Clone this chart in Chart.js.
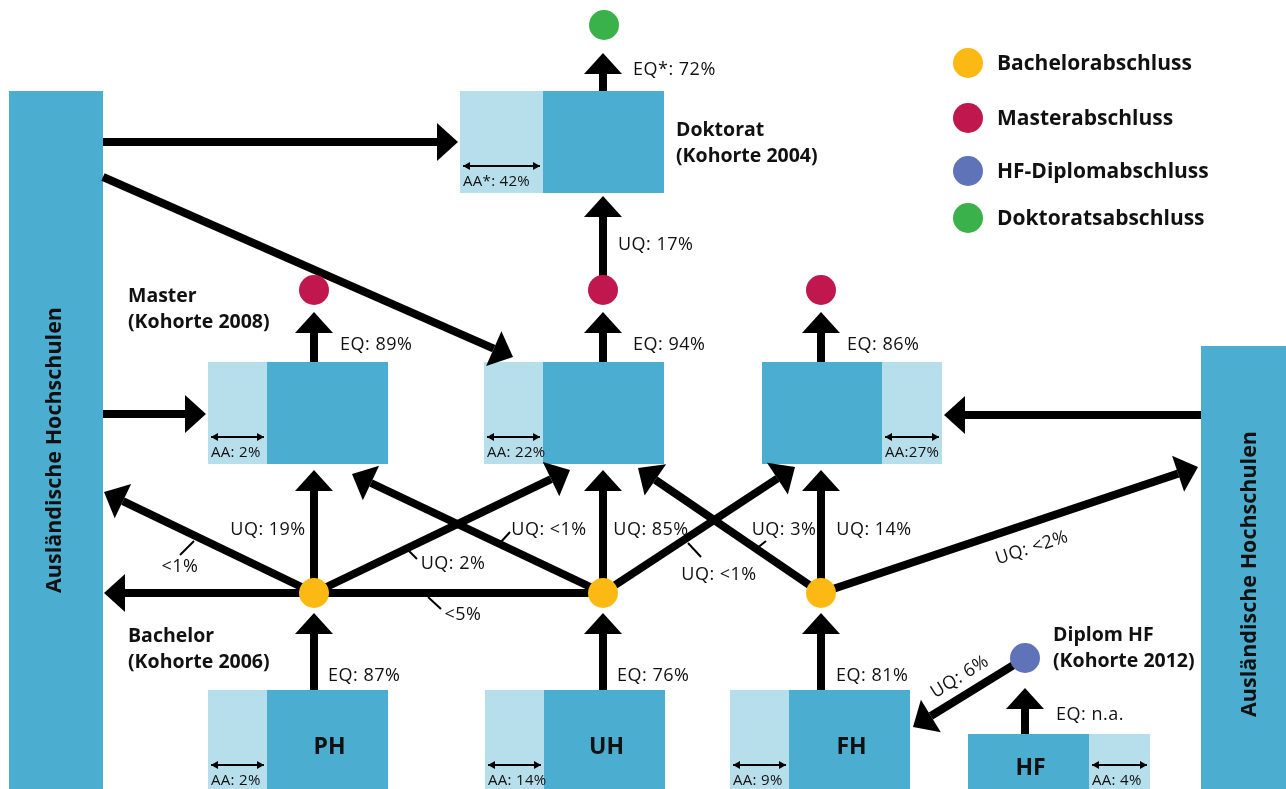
<!DOCTYPE html>
<html>
<head>
<meta charset="utf-8">
<script src="https://cdn.jsdelivr.net/npm/chart.js@4.4.0/dist/chart.umd.min.js"></script>
<style>
	html, body { margin: 0; padding: 0; background: #fff; }
	canvas { display: block; }
</style>
</head>
<body>
<canvas id="flow" width="1286" height="789"></canvas>
<script>
// Values
const legendLabels = [ 'Bachelorabschluss', 'Masterabschluss', 'HF-Diplomabschluss', 'Doktoratsabschluss' ];
const legendColors = [ '#fdb913', '#c0174f', '#5f73b8', '#3ab14a' ];
const schoolTypes = [ 'PH', 'UH', 'FH', 'HF' ];
const bachelorEQ = [ '87%', '76%', '81%', 'n.a.' ];
const bachelorAA = [ '2%', '14%', '9%', '4%' ];
const masterEQ = [ '89%', '94%', '86%' ];
const masterAA = [ '2%', '22%', '27%' ];
const doktoratEQ = '72%';
const doktoratAA = '42%';
const doktoratUQ = '17%';
const hfUQ = '6%';
// transitions out of the bachelor nodes: PH->abroad, UH->abroad, PH->PH, PH->UH, UH->PH, UH->UH, UH->FH, FH->UH, FH->FH, FH->abroad
const bachelorUQ = [ '<1%', '<5%', '19%', '2%', '<1%', '85%', '<1%', '3%', '14%', '<2%' ];
const foreignLabel = 'Ausländische Hochschulen';
const cohortTitles = [ 'Bachelor', 'Master', 'Doktorat', 'Diplom HF' ];
const cohortYears = [ '(Kohorte 2006)', '(Kohorte 2008)', '(Kohorte 2004)', '(Kohorte 2012)' ];

// Layout (diagram units = canvas pixels)
const DARK = '#4badcf';
const LIGHT = '#b7deeb';
const INK = '#111';
const REG = '"Open Sans", sans-serif';
const BOLD_FAMILY = '"Open Sans", sans-serif';

const boxes = [
	{ x0: 460, x1: 664, split: 543, y0: 91, y1: 193, lightLeft: true, aa: 'AA*: ' + doktoratAA },
	{ x0: 208, x1: 388, split: 267, y0: 362, y1: 464, lightLeft: true, aa: 'AA: ' + masterAA[ 0 ] },
	{ x0: 484, x1: 664, split: 543, y0: 362, y1: 464, lightLeft: true, aa: 'AA: ' + masterAA[ 1 ] },
	{ x0: 762, x1: 942, split: 882, y0: 362, y1: 464, lightLeft: false, aa: 'AA:' + masterAA[ 2 ] },
	{ x0: 208, x1: 388, split: 267, y0: 690, y1: 792, lightLeft: true, aa: 'AA: ' + bachelorAA[ 0 ], name: schoolTypes[ 0 ] },
	{ x0: 485, x1: 665, split: 544, y0: 690, y1: 792, lightLeft: true, aa: 'AA: ' + bachelorAA[ 1 ], name: schoolTypes[ 1 ] },
	{ x0: 730, x1: 910, split: 789, y0: 690, y1: 792, lightLeft: true, aa: 'AA: ' + bachelorAA[ 2 ], name: schoolTypes[ 2 ] },
	{ x0: 968, x1: 1150, split: 1089, y0: 734, y1: 792, lightLeft: false, aa: 'AA: ' + bachelorAA[ 3 ], name: schoolTypes[ 3 ] }
];
const foreignBars = [
	{ x0: 9, x1: 103, y0: 91, y1: 792, tx: 55, ty: 450 },
	{ x0: 1201, x1: 1286, y0: 346, y1: 792, tx: 1250, ty: 574 }
];

const bPH = [ 314, 593 ], bUH = [ 603, 593 ], bFH = [ 821, 593 ];
const mPH = [ 314, 290 ], mUH = [ 603, 290 ], mFH = [ 821, 290 ];
const dok = [ 604, 25 ], hfDot = [ 1025, 658 ];

const arrows = [
	{ from: [ 314, 690 ], to: [ 314, 613 ] },
	{ from: [ 603, 690 ], to: [ 603, 613 ] },
	{ from: [ 821, 690 ], to: [ 821, 613 ] },
	{ from: [ 1025, 734 ], to: [ 1025, 688 ] },
	{ from: hfDot, to: [ 913, 727 ] },
	{ from: bUH, to: [ 104, 593 ] },
	{ from: bPH, to: [ 104, 492 ] },
	{ from: bPH, to: [ 314, 470 ] },
	{ from: bPH, to: [ 570, 470 ] },
	{ from: bUH, to: [ 352, 474 ] },
	{ from: bUH, to: [ 603, 470 ] },
	{ from: bUH, to: [ 795, 467 ] },
	{ from: bFH, to: [ 638, 468 ] },
	{ from: bFH, to: [ 821, 470 ] },
	{ from: bFH, to: [ 1198, 467 ] },
	{ from: [ 314, 362 ], to: [ 314, 312 ] },
	{ from: [ 603, 362 ], to: [ 603, 312 ] },
	{ from: [ 821, 362 ], to: [ 821, 312 ] },
	{ from: mUH, to: [ 603, 196 ] },
	{ from: [ 603, 91 ], to: [ 603, 53 ] },
	{ from: [ 103, 142 ], to: [ 458, 142 ] },
	{ from: [ 103, 177 ], to: [ 513, 357 ] },
	{ from: [ 103, 414 ], to: [ 206, 414 ] },
	{ from: [ 1201, 415 ], to: [ 944, 415 ] }
];
const HEAD_LEN = 21;
const HEAD_HALF = 19;

// labels: text, x, y, centred or left, angle (deg)
const labels = [
	{ t: 'EQ*: ' + doktoratEQ, x: 633, y: 70 },
	{ t: 'UQ: ' + doktoratUQ, x: 618, y: 245 },
	{ t: 'EQ: ' + masterEQ[ 0 ], x: 340, y: 345 },
	{ t: 'EQ: ' + masterEQ[ 1 ], x: 633, y: 345 },
	{ t: 'EQ: ' + masterEQ[ 2 ], x: 847, y: 345 },
	{ t: 'EQ: ' + bachelorEQ[ 0 ], x: 328, y: 676 },
	{ t: 'EQ: ' + bachelorEQ[ 1 ], x: 617, y: 676 },
	{ t: 'EQ: ' + bachelorEQ[ 2 ], x: 836, y: 676 },
	{ t: 'EQ: ' + bachelorEQ[ 3 ], x: 1056, y: 715 },
	{ t: bachelorUQ[ 0 ], x: 180, y: 567, c: true },
	{ t: bachelorUQ[ 1 ], x: 463, y: 615, c: true },
	{ t: 'UQ: ' + bachelorUQ[ 2 ], x: 268, y: 530, c: true },
	{ t: 'UQ: ' + bachelorUQ[ 3 ], x: 453, y: 564, c: true },
	{ t: 'UQ: ' + bachelorUQ[ 4 ], x: 549, y: 530, c: true },
	{ t: 'UQ: ' + bachelorUQ[ 5 ], x: 651, y: 530, c: true },
	{ t: 'UQ: ' + bachelorUQ[ 6 ], x: 719, y: 575, c: true },
	{ t: 'UQ: ' + bachelorUQ[ 7 ], x: 784, y: 530, c: true },
	{ t: 'UQ: ' + bachelorUQ[ 8 ], x: 874, y: 530, c: true },
	{ t: 'UQ: ' + bachelorUQ[ 9 ], x: 1032, y: 548, c: true, a: -18 },
	{ t: 'UQ: ' + hfUQ, x: 960, y: 677, c: true, a: -32 }
];
const ticks = [
	[ 180, 555, 194, 541 ], [ 428, 597, 441, 609 ], [ 408, 550, 417, 559 ],
	[ 500, 543, 510, 532 ], [ 688, 543, 701, 557 ], [ 756, 549, 766, 541 ]
];
const titles = [
	{ x: 128, y: 636 }, { x: 128, y: 296 }, { x: 676, y: 130 }, { x: 1053, y: 635 }
];

// Shaft ends stop where the arrow head starts
function shaftEnd( a ) {
	const dx = a.to[ 0 ] - a.from[ 0 ], dy = a.to[ 1 ] - a.from[ 1 ];
	const len = Math.hypot( dx, dy );
	return { x: a.to[ 0 ] - dx / len * HEAD_LEN, y: a.to[ 1 ] - dy / len * HEAD_LEN };
}

const shaftSets = arrows.map( function ( a ) {
	return {
		type: 'scatter',
		data: [ { x: a.from[ 0 ], y: a.from[ 1 ] }, shaftEnd( a ) ],
		showLine: true,
		borderColor: '#000',
		borderWidth: 8,
		borderCapStyle: 'butt',
		pointRadius: 0,
		order: 2
	};
} );

const dotSet = {
	type: 'scatter',
	data: [ bPH, bUH, bFH, mPH, mUH, mFH, dok, hfDot ].map( ( p ) => ( { x: p[ 0 ], y: p[ 1 ] } ) ),
	pointRadius: 15,
	pointBorderWidth: 0,
	pointBackgroundColor: [ 0, 0, 0, 1, 1, 1, 3, 2 ].map( ( i ) => legendColors[ i ] ),
	order: 0
};
const legendSet = {
	type: 'scatter',
	data: [ 63, 118, 171, 218 ].map( ( y ) => ( { x: 968, y: y } ) ),
	pointRadius: 15,
	pointBorderWidth: 0,
	pointBackgroundColor: legendColors,
	order: 0
};

function txt( ctx, s, x, y, font, align, angle, spacing ) {
	ctx.save();
	ctx.translate( x, y );
	if ( angle ) {
		ctx.rotate( angle * Math.PI / 180 );
	}
	ctx.font = font;
	ctx.letterSpacing = ( spacing || 0 ) + 'px';
	ctx.fillStyle = INK;
	ctx.textAlign = align || 'left';
	ctx.textBaseline = 'middle';
	ctx.fillText( s, 0, 0 );
	ctx.restore();
}

const flowPlugin = {
	id: 'flowDecor',
	beforeDatasetsDraw: function ( chart ) {
		const ctx = chart.ctx;
		const sx = chart.scales.x, sy = chart.scales.y;
		const px = ( v ) => sx.getPixelForValue( v );
		const py = ( v ) => sy.getPixelForValue( v );
		ctx.save();
		foreignBars.forEach( function ( b ) {
			ctx.fillStyle = DARK;
			ctx.fillRect( px( b.x0 ), py( b.y0 ), px( b.x1 ) - px( b.x0 ), py( b.y1 ) - py( b.y0 ) );
			txt( ctx, foreignLabel, px( b.tx ), py( b.ty ), 'bold 21.5px ' + BOLD_FAMILY, 'center', -90 );
		} );
		boxes.forEach( function ( b ) {
			ctx.fillStyle = DARK;
			ctx.fillRect( px( b.x0 ), py( b.y0 ), px( b.x1 ) - px( b.x0 ), py( b.y1 ) - py( b.y0 ) );
			const l0 = b.lightLeft ? b.x0 : b.split;
			const l1 = b.lightLeft ? b.split : b.x1;
			ctx.fillStyle = LIGHT;
			ctx.fillRect( px( l0 ), py( b.y0 ), px( l1 ) - px( l0 ), py( b.y1 ) - py( b.y0 ) );
			if ( b.name ) {
				const dx0 = b.lightLeft ? b.split : b.x0;
				const dx1 = b.lightLeft ? b.x1 : b.split;
				const cy = b.y1 - b.y0 > 80 ? ( b.y0 + 57 ) : ( b.y0 + 34 );
				txt( ctx, b.name, px( ( dx0 + dx1 ) / 2 + 2 ), py( cy ), 'bold 23px ' + BOLD_FAMILY, 'center' );
			}
		} );
		ctx.restore();
	},
	afterDatasetsDraw: function ( chart ) {
		const ctx = chart.ctx;
		const sx = chart.scales.x, sy = chart.scales.y;
		const px = ( v ) => sx.getPixelForValue( v );
		const py = ( v ) => sy.getPixelForValue( v );
		ctx.save();
		// arrow heads
		ctx.fillStyle = '#000';
		arrows.forEach( function ( a ) {
			const tx = px( a.to[ 0 ] ), ty = py( a.to[ 1 ] );
			const fx = px( a.from[ 0 ] ), fy = py( a.from[ 1 ] );
			const len = Math.hypot( tx - fx, ty - fy );
			const ux = ( tx - fx ) / len, uy = ( ty - fy ) / len;
			const bx = tx - ux * HEAD_LEN, by = ty - uy * HEAD_LEN;
			ctx.beginPath();
			ctx.moveTo( tx, ty );
			ctx.lineTo( bx - uy * HEAD_HALF, by + ux * HEAD_HALF );
			ctx.lineTo( bx + uy * HEAD_HALF, by - ux * HEAD_HALF );
			ctx.closePath();
			ctx.fill();
		} );
		// AA measure arrows inside the light part
		boxes.forEach( function ( b ) {
			const l0 = b.lightLeft ? b.x0 : b.split;
			const l1 = b.lightLeft ? b.split : b.x1;
			const y = py( b.y1 - 27 );
			const x0 = px( l0 + 3 ), x1 = px( l1 - 3 );
			ctx.strokeStyle = '#000';
			ctx.lineWidth = 2;
			ctx.beginPath();
			ctx.moveTo( x0, y );
			ctx.lineTo( x1, y );
			ctx.stroke();
			ctx.beginPath();
			ctx.moveTo( x0, y ); ctx.lineTo( x0 + 7, y - 4 ); ctx.lineTo( x0 + 7, y + 4 ); ctx.closePath();
			ctx.moveTo( x1, y ); ctx.lineTo( x1 - 7, y - 4 ); ctx.lineTo( x1 - 7, y + 4 ); ctx.closePath();
			ctx.fill();
			txt( ctx, b.aa, px( l0 + 3 ), py( b.y1 - 11 ), '15px ' + REG, 'left', 0, 0.3 );
		} );
		// label ticks
		ctx.lineWidth = 2;
		ticks.forEach( function ( t ) {
			ctx.beginPath();
			ctx.moveTo( px( t[ 0 ] ), py( t[ 1 ] ) );
			ctx.lineTo( px( t[ 2 ] ), py( t[ 3 ] ) );
			ctx.stroke();
		} );
		labels.forEach( function ( l ) {
			txt( ctx, l.t, px( l.x ), py( l.y ), '18px ' + REG, l.c ? 'center' : 'left', l.a, 0.5 );
		} );
		titles.forEach( function ( t, i ) {
			txt( ctx, cohortTitles[ i ], px( t.x ), py( t.y ), 'bold 19.5px ' + BOLD_FAMILY, 'left' );
			txt( ctx, cohortYears[ i ], px( t.x ), py( t.y + 26 ), 'bold 19.5px ' + BOLD_FAMILY, 'left' );
		} );
		legendLabels.forEach( function ( s, i ) {
			txt( ctx, s, px( 997 ), py( legendSet.data[ i ].y + 1 ), 'bold 21px ' + BOLD_FAMILY, 'left' );
		} );
		ctx.restore();
	}
};

new Chart( document.getElementById( 'flow' ), {
	type: 'scatter',
	data: { datasets: [ dotSet, legendSet ].concat( shaftSets ) },
	options: {
		responsive: false,
		animation: false,
		events: [],
		layout: { padding: 0, autoPadding: false },
		plugins: { legend: { display: false }, tooltip: { enabled: false } },
		scales: {
			x: { type: 'linear', min: 0, max: 1286, display: false },
			y: { type: 'linear', min: 0, max: 789, reverse: true, display: false }
		}
	},
	plugins: [ flowPlugin ]
} );
</script>
</body>
</html>
